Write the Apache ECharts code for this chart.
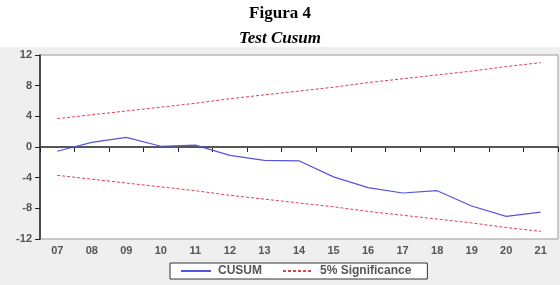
<!DOCTYPE html>
<html>
<head>
<meta charset="utf-8">
<script src="https://cdn.jsdelivr.net/npm/echarts@6/dist/echarts.min.js"></script>
<style>
  html, body { margin: 0; padding: 0; background: #fff; }
  #chart { width: 560px; height: 285px; }
</style>
</head>
<body>
<div id="chart"></div>
<script>
// years on the x axis
var years = ['07', '08', '09', '10', '11', '12', '13', '14', '15', '16', '17', '18', '19', '20', '21'];
// CUSUM statistic
var cusum = [-0.55, 0.6, 1.25, 0.1, 0.25, -1.1, -1.75, -1.8, -3.9, -5.3, -6.0, -5.7, -7.7, -9.05, -8.5];
// 5% significance bounds
var upper = [3.7, 4.2, 4.7, 5.2, 5.7, 6.3, 6.8, 7.3, 7.8, 8.4, 8.9, 9.4, 9.9, 10.5, 11.0];
var lower = [-3.7, -4.2, -4.7, -5.2, -5.7, -6.3, -6.8, -7.3, -7.8, -8.4, -8.9, -9.4, -9.9, -10.5, -11.0];

var chart = echarts.init(document.getElementById('chart'));
var lblFont = { color: '#555', fontSize: 11, fontWeight: 'bold', fontFamily: 'Liberation Sans, Arial, sans-serif' };

chart.setOption({
    animation: false,
    graphic: [
        { type: 'rect', z: -10, shape: { x: 0, y: 47, width: 560, height: 238 }, style: { fill: '#efefef' } },
        { type: 'text', left: 'center', top: 5, style: { text: 'Figura 4', font: 'bold 17px "Liberation Serif", serif', fill: '#000' } },
        { type: 'text', left: 'center', top: 30, style: { text: 'Test Cusum', font: 'italic bold 17px "Liberation Serif", serif', fill: '#000' } }
    ],
    grid: {
        left: 40, right: 2, top: 55, bottom: 46,
        show: true, backgroundColor: '#fff', borderColor: '#999', borderWidth: 1
    },
    legend: {
        left: 170, top: 263,
        backgroundColor: '#fff', borderColor: '#333', borderWidth: 1,
        padding: [2, 16, 2, 10],
        itemWidth: 30, itemHeight: 12, itemGap: 20,
        itemStyle: { opacity: 0 },
        textStyle: { color: '#555', fontSize: 12, fontWeight: 'bold', fontFamily: 'Liberation Sans, Arial, sans-serif', padding: [0, 0, 0, 2] },
        data: ['CUSUM', '5% Significance']
    },
    xAxis: {
        type: 'category',
        data: years,
        boundaryGap: true,
        axisLine: { lineStyle: { color: '#222', width: 1.5 } },
        axisTick: { show: true, length: 5, lineStyle: { color: '#222' } },
        axisLabel: Object.assign({ margin: 6 }, lblFont)
    },
    yAxis: {
        type: 'value',
        min: -12, max: 12, interval: 4,
        axisLine: { show: true, lineStyle: { color: '#222', width: 1.5 } },
        axisTick: { show: true, length: 5, lineStyle: { color: '#222' } },
        splitLine: { show: false },
        axisLabel: Object.assign({ margin: 8 }, lblFont)
    },
    series: [
        {
            name: 'CUSUM', type: 'line', data: cusum, symbol: 'none',
            lineStyle: { color: '#5555dd', width: 1.2 }, itemStyle: { color: '#5555dd' },
            markLine: {
                silent: true, symbol: 'none', label: { show: false },
                lineStyle: { color: '#555', width: 1, type: 'solid' },
                data: [{ yAxis: 0 }]
            }
        },
        {
            name: '5% Significance', type: 'line', data: upper, symbol: 'none',
            lineStyle: { color: '#e0404f', width: 1, type: [3, 2] }, itemStyle: { color: '#e0404f' }
        },
        {
            name: '5% Significance', type: 'line', data: lower, symbol: 'none',
            lineStyle: { color: '#e0404f', width: 1, type: [3, 2] }, itemStyle: { color: '#e0404f' }
        }
    ]
});
</script>
</body>
</html>
